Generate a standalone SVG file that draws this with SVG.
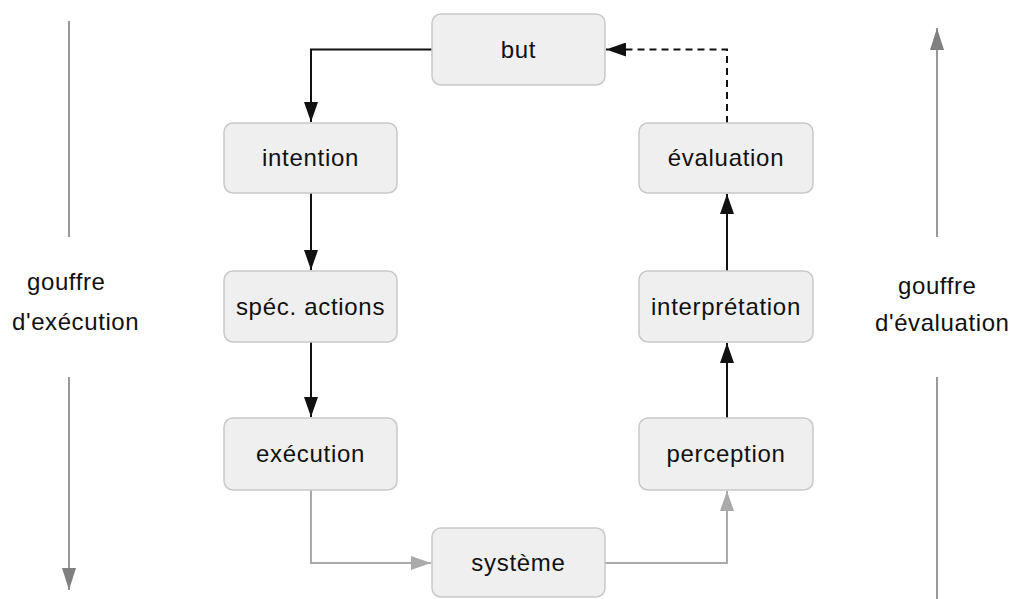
<svg xmlns="http://www.w3.org/2000/svg" width="1022" height="599" viewBox="0 0 1022 599">
<defs>
<style>
.box{fill:#efefef;stroke:#c9c9c9;stroke-width:1.5}
.lbl{font-family:"Liberation Sans",Arial,sans-serif;font-size:24px;letter-spacing:0.7px;fill:#111;text-anchor:middle}
.side{font-family:"Liberation Sans",Arial,sans-serif;font-size:24px;letter-spacing:0.6px;fill:#111}
.blk{fill:none;stroke:#111;stroke-width:2}
.gry{fill:none;stroke:#aaaaaa;stroke-width:2}
.gap{fill:none;stroke:#999999;stroke-width:2}
</style>
<marker id="ab" markerUnits="userSpaceOnUse" markerWidth="20" markerHeight="14" refX="20" refY="7" orient="auto"><path d="M0,0 L20,7 L0,14 z" fill="#111"/></marker>
<marker id="ag" markerUnits="userSpaceOnUse" markerWidth="20" markerHeight="14" refX="20" refY="7" orient="auto"><path d="M0,0 L20,7 L0,14 z" fill="#aaaaaa"/></marker>
<marker id="as" markerUnits="userSpaceOnUse" markerWidth="22" markerHeight="14" refX="22" refY="7" orient="auto"><path d="M0,0 L22,7 L0,14 z" fill="#808080"/></marker>
</defs>
<rect width="1022" height="599" fill="#ffffff"/>
<g id="connectors">
<path class="blk" d="M432,49.5 H311 V122" marker-end="url(#ab)"/>
<path class="blk" d="M311,193 V270" marker-end="url(#ab)"/>
<path class="blk" d="M311,342 V417" marker-end="url(#ab)"/>
<path class="gry" d="M311,490 V563 H431" marker-end="url(#ag)"/>
<path class="gry" d="M605,563 H727 V491" marker-end="url(#ag)"/>
<path class="blk" d="M727,418 V343" marker-end="url(#ab)"/>
<path class="blk" d="M727,271 V194" marker-end="url(#ab)"/>
<path class="blk" d="M727,123 V49.5 H606" stroke-dasharray="7,5" marker-end="url(#ab)"/>
</g>
<g id="gap-execution">
<line class="gap" x1="69" y1="21" x2="69" y2="237"/>
<line class="gap" x1="69" y1="377" x2="69" y2="590" marker-end="url(#as)"/>
<text class="side" x="27" y="290">gouffre</text>
<text class="side" x="12" y="330">d'exécution</text>
</g>
<g id="gap-evaluation">
<line class="gap" x1="937" y1="377" x2="937" y2="599"/>
<line class="gap" x1="937" y1="237" x2="937" y2="28" marker-end="url(#as)"/>
<text class="side" x="898" y="294">gouffre</text>
<text class="side" x="875" y="331">d'évaluation</text>
</g>
<g id="but"><rect class="box" x="432" y="14" width="173" height="71" rx="9"/><text class="lbl" x="518.5" y="57.5">but</text></g>
<g id="intention"><rect class="box" x="224" y="123" width="173" height="70" rx="9"/><text class="lbl" x="310.5" y="166">intention</text></g>
<g id="spec-actions"><rect class="box" x="224" y="271" width="173" height="71" rx="9"/><text class="lbl" x="310.5" y="314.5">spéc. actions</text></g>
<g id="execution"><rect class="box" x="224" y="418" width="173" height="72" rx="9"/><text class="lbl" x="310.5" y="462">exécution</text></g>
<g id="systeme"><rect class="box" x="432" y="528" width="173" height="69" rx="9"/><text class="lbl" x="518.5" y="570.5">système</text></g>
<g id="perception"><rect class="box" x="639" y="418" width="174" height="72" rx="9"/><text class="lbl" x="726" y="462">perception</text></g>
<g id="interpretation"><rect class="box" x="639" y="271" width="174" height="71" rx="9"/><text class="lbl" x="726" y="314.5">interprétation</text></g>
<g id="evaluation"><rect class="box" x="639" y="123" width="174" height="70" rx="9"/><text class="lbl" x="726" y="166">évaluation</text></g>
</svg>
